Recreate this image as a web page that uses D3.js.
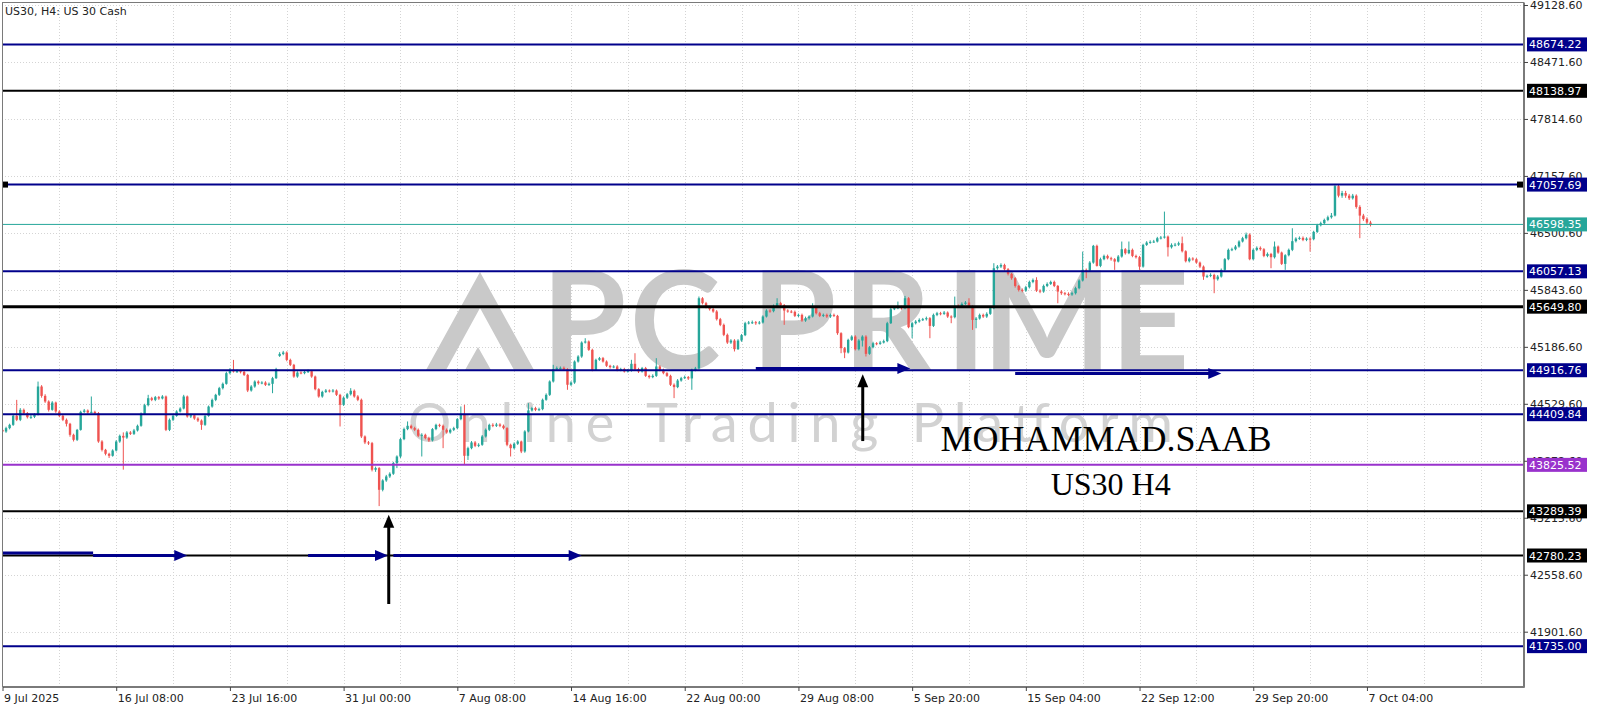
<!DOCTYPE html>
<html>
<head>
<meta charset="utf-8">
<script src="https://d3js.org/d3.v7.min.js"></script>
<style>
  html, body { margin: 0; padding: 0; background: #fff; }
  svg { display: block; font-family: "DejaVu Sans", sans-serif; }
</style>
</head>
<body>
<svg id="chart" width="1600" height="711"></svg>
<script>
const title = "US30, H4:  US 30 Cash";

// H4 candles, 9 Jul 2025 -> 7 Oct 2025
const opens = [
44229,44210,44249,44287,44391,44345,44460,44421,44375,44380,44402,44729,44621,44556,44460,44544,44441,44391,44345,44299,
44172,44114,44229,44437,44452,44429,44437,44421,44095,43999,43953,43930,43991,44095,44160,44140,44199,44183,44222,44276,
44414,44514,44594,44575,44606,44591,44614,44229,44345,44391,44441,44475,44614,44383,44398,44360,44337,44287,44391,44498,
44575,44633,44710,44760,44883,44921,44902,44906,44898,44863,44683,44729,44786,44767,44775,44748,44760,44825,45082,45105,
45121,45036,44979,44844,44890,44883,44898,44906,44844,44698,44614,44667,44683,44675,44683,44633,44518,44600,44640,44680,
44614,44576,44153,44084,44076,43769,43788,43538,43646,43692,43723,43846,43922,44122,44238,44276,44249,44230,44161,44172,
44134,44107,44238,44287,44276,44230,44199,44230,44249,44353,44414,43930,44018,44084,44045,44057,44153,44230,44287,44276,
44291,44276,44249,44057,44018,44069,44095,43980,44211,44453,44480,44460,44468,44576,44633,44787,44929,44941,44944,44929,
44749,44775,45017,45075,45236,45248,45152,44921,45037,45056,45017,44968,44952,44960,44921,44929,44902,44914,44991,44929,
44902,44941,44852,44837,44852,44960,44921,44883,44852,44749,44722,44798,44825,44837,44822,44921,44937,45747,45690,45644,
45621,45594,45505,45440,45325,45236,45259,45160,45259,45321,45459,45467,45470,45459,45467,45536,45605,45598,45659,45690,
45667,45605,45594,45590,45544,45555,45490,45517,45536,45643,45574,45544,45555,45536,45555,45544,45344,45171,45121,45267,
45305,45159,45259,45305,45106,45182,45228,45221,45236,45252,45459,45620,45632,45643,45632,45747,45413,45459,45478,45497,
45505,45517,45428,45555,45574,45567,45582,45536,45528,45659,45651,45682,45697,45651,45497,45513,45555,45536,45567,45632,
46093,46112,46131,46081,46028,45978,45889,45843,45835,45874,45935,45958,45835,45824,45889,45912,45935,45889,45824,45805,
45797,45790,45805,45863,45951,46074,46066,46158,46351,46120,46197,46235,46208,46197,46170,46228,46312,46266,46305,46235,
46220,46112,46362,46389,46397,46401,46439,46447,46458,46335,46362,46365,46381,46289,46174,46205,46197,46158,46112,45997,
46005,46016,45966,45997,46074,46197,46305,46312,46343,46401,46439,46481,46197,46305,46328,46312,46235,46258,46220,46343,
46274,46143,46243,46305,46405,46435,46443,46420,46435,46428,46512,46589,46612,46650,46681,46700,47040,46930,46960,46930,
46900,46930,46800,46700,46660,46620
];
const highs = [
44250,44265,44300,44410,44575,44480,44475,44435,44400,44420,44786,44745,44640,44570,44560,44555,44455,44405,44360,44310,
44185,44240,44450,44470,44465,44614,44450,44435,44110,44010,43965,44005,44110,44175,44200,44215,44215,44240,44290,44430,
44530,44633,44610,44620,44620,44630,44625,44360,44405,44455,44490,44633,44625,44415,44410,44375,44350,44400,44510,44590,
44645,44725,44775,44900,44940,45036,44925,44920,44910,44875,44745,44800,44800,44790,44790,44775,44840,44945,45125,45140,
45135,45050,44990,44905,44905,44915,44925,44920,44855,44710,44680,44700,44695,44700,44695,44645,44615,44655,44710,44695,
44630,44590,44165,44100,44090,43805,43800,43660,43710,43740,43860,43935,44135,44255,44326,44290,44265,44245,44190,44185,
44150,44250,44300,44300,44290,44245,44245,44265,44365,44499,44518,44035,44100,44100,44075,44170,44245,44300,44305,44310,
44305,44290,44260,44070,44085,44110,44105,44225,44537,44495,44495,44485,44590,44650,44800,44979,44960,44960,44960,44940,
44790,45030,45090,45250,45286,45260,45165,45050,45070,45070,45030,44980,44975,44975,44945,44945,44930,45037,45113,44945,
44955,44955,44865,44870,45056,44975,44935,44895,44865,44765,44815,44840,44855,44850,44935,44955,45767,45760,45705,45660,
45635,45610,45520,45455,45340,45275,45275,45275,45335,45475,45485,45490,45485,45485,45550,45620,45620,45675,45747,45705,
45680,45620,45610,45605,45570,45570,45535,45550,45689,45655,45590,45570,45570,45570,45570,45555,45355,45185,45280,45320,
45320,45275,45320,45320,45195,45245,45240,45255,45270,45475,45651,45650,45709,45660,45774,45760,45475,45495,45515,45520,
45535,45530,45570,45590,45590,45600,45595,45550,45766,45675,45700,45715,45747,45665,45530,45570,45570,45585,45650,46151,
46130,46150,46145,46095,46040,45990,45900,45860,45890,45950,45975,45989,45850,45905,45930,45950,45950,45900,45840,45820,
45815,45822,45880,45965,46285,46090,46175,46362,46365,46215,46250,46250,46225,46210,46245,46401,46325,46401,46320,46250,
46235,46375,46405,46415,46420,46455,46465,46746,46470,46380,46385,46400,46458,46300,46220,46220,46210,46170,46125,46020,
46035,46030,46015,46090,46210,46320,46330,46360,46415,46455,46504,46495,46320,46345,46345,46325,46275,46270,46401,46355,
46285,46255,46320,46554,46450,46460,46460,46450,46450,46525,46605,46630,46665,46700,46730,47065,47055,46985,46985,46950,
46950,46945,46820,46720,46680,46640
];
const lows = [
44190,44195,44235,44275,44330,44330,44405,44360,44355,44365,44395,44600,44540,44440,44450,44425,44375,44330,44268,44150,
44095,44100,44220,44425,44415,44420,44405,44080,43980,43935,43905,43920,43980,44080,43770,44125,44170,44170,44210,44265,
44400,44500,44560,44560,44575,44580,44215,44215,44330,44380,44430,44465,44370,44365,44345,44320,44229,44275,44380,44485,
44560,44620,44695,44750,44870,44890,44885,44880,44850,44665,44670,44715,44750,44755,44735,44735,44652,44815,45070,45090,
45020,44965,44830,44830,44870,44870,44885,44830,44685,44600,44600,44655,44660,44660,44620,44268,44505,44585,44625,44600,
44560,44135,44065,44055,43750,43745,43350,43520,43630,43675,43710,43788,43905,44110,44225,44235,44215,44145,43922,44120,
44090,44095,44225,44260,44018,44185,44185,44215,44235,44340,43826,43882,44005,44030,44030,44045,44140,44215,44260,44262,
44260,44235,44040,43922,44005,44055,43961,43965,44200,44440,44445,44445,44455,44565,44620,44775,44915,44925,44915,44691,
44735,44760,45005,45060,45225,45140,44905,44910,45025,45005,44955,44935,44940,44905,44905,44890,44890,44900,44915,44885,
44890,44840,44820,44825,44840,44905,44870,44840,44735,44595,44710,44785,44815,44805,44691,44905,44925,45675,45630,45605,
45580,45490,45425,45310,45220,45220,45133,45150,45245,45310,45445,45450,45440,45445,45455,45525,45580,45585,45645,45650,
45440,45580,45575,45530,45530,45475,45475,45500,45525,45560,45530,45530,45520,45520,45530,45325,45113,45056,45110,45255,
45145,45145,45190,45075,45095,45170,45205,45210,45225,45240,45450,45610,45620,45615,45620,45401,45286,45445,45465,45485,
45490,45286,45415,45540,45550,45555,45520,45459,45515,45635,45640,45670,45635,45382,45401,45500,45520,45520,45555,45620,
46075,46095,46065,46010,45960,45870,45825,45815,45820,45860,45920,45820,45805,45810,45875,45900,45875,45689,45786,45780,
45772,45775,45790,45850,45940,45978,46050,46145,46112,46105,46185,46195,46180,46074,46160,46215,46250,46255,46220,46205,
46074,46100,46350,46375,46385,46390,46425,46435,46228,46320,46345,46350,46275,46160,46160,46180,46145,46095,45959,45980,
45990,45805,45950,45985,46060,46185,46290,46300,46330,46390,46425,46185,46185,46290,46295,46220,46220,46093,46205,46260,
46130,46074,46230,46290,46390,46420,46405,46405,46285,46415,46500,46575,46600,46635,46665,46690,46910,46905,46905,46880,
46885,46780,46440,46640,46600,46575
];
const closes = [
44210,44249,44287,44391,44345,44460,44421,44375,44380,44402,44729,44621,44556,44460,44544,44441,44391,44345,44299,44172,
44114,44229,44437,44452,44429,44437,44421,44095,43999,43953,43930,43991,44095,44160,44140,44199,44183,44222,44276,44414,
44514,44594,44575,44606,44591,44614,44229,44345,44391,44441,44475,44614,44383,44398,44360,44337,44287,44391,44498,44575,
44633,44710,44760,44883,44921,44902,44906,44898,44863,44683,44729,44786,44767,44775,44748,44760,44825,44929,45105,45121,
45036,44979,44844,44890,44883,44898,44906,44844,44698,44614,44667,44683,44675,44683,44633,44518,44600,44640,44680,44614,
44576,44153,44084,44076,43769,43788,43538,43646,43692,43723,43846,43922,44122,44238,44276,44249,44230,44161,44172,44134,
44107,44238,44287,44276,44230,44199,44230,44249,44353,44414,43930,44018,44084,44045,44057,44153,44230,44287,44276,44291,
44276,44249,44057,44018,44069,44095,43980,44211,44453,44480,44460,44468,44576,44633,44787,44929,44941,44944,44929,44749,
44775,45017,45075,45236,45248,45152,44921,45037,45056,45017,44968,44952,44960,44921,44929,44902,44914,44991,44929,44902,
44941,44852,44837,44852,44960,44921,44883,44852,44749,44722,44798,44825,44837,44822,44921,44937,45747,45690,45644,45621,
45594,45505,45440,45325,45236,45259,45160,45259,45321,45459,45467,45470,45459,45467,45536,45605,45598,45659,45690,45667,
45605,45594,45590,45544,45555,45490,45517,45536,45643,45574,45544,45555,45536,45555,45544,45344,45171,45121,45267,45305,
45159,45259,45305,45106,45182,45228,45221,45236,45252,45459,45620,45632,45643,45632,45747,45413,45459,45478,45497,45505,
45517,45428,45555,45574,45567,45582,45536,45528,45659,45651,45682,45697,45651,45497,45513,45555,45536,45567,45632,46093,
46112,46131,46081,46028,45978,45889,45843,45835,45874,45935,45958,45835,45824,45889,45912,45935,45889,45824,45805,45797,
45790,45805,45863,45951,46074,46066,46158,46351,46120,46197,46235,46208,46197,46170,46228,46312,46266,46305,46235,46220,
46112,46362,46389,46397,46401,46439,46447,46458,46335,46362,46365,46381,46289,46174,46205,46197,46158,46112,45997,46005,
46016,45966,45997,46074,46197,46305,46312,46343,46401,46439,46481,46197,46305,46328,46312,46235,46258,46220,46343,46274,
46143,46243,46305,46405,46435,46443,46420,46435,46428,46512,46589,46612,46650,46681,46700,47040,46930,46960,46930,46900,
46930,46800,46700,46660,46620,46598
];

const priceTicks = [49128.60, 48471.60, 47814.60, 47157.60, 46500.60, 45843.60, 45186.60, 44529.60, 43872.60, 43215.60, 42558.60, 41901.60];
const timeTickBars = [0, 32, 64, 96, 128, 160, 192, 224, 256, 288, 320, 352, 384];
const timeTickLabels = ["9 Jul 2025", "16 Jul 08:00", "23 Jul 16:00", "31 Jul 00:00", "7 Aug 08:00", "14 Aug 16:00",
  "22 Aug 00:00", "29 Aug 08:00", "5 Sep 20:00", "15 Sep 04:00", "22 Sep 12:00", "29 Sep 20:00", "7 Oct 04:00"];

// horizontal levels drawn on the chart
const levelPrices = [48674.22, 48138.97, 47057.69, 46057.13, 45649.80, 44916.76, 44409.84, 43825.52, 43289.39, 42780.23, 41735.00];
const levelKinds = ["blue", "black", "blue", "blue", "black", "blue", "blue", "purple", "black", "black", "blue"];
const bidPrice = 46598.35;

// annotations: [fromBar, toBar, price, hasHead]
const blueArrows = [[0, 25.5, 42810, 0], [25.5, 52, 42780, 1], [86, 108.5, 42780, 1], [110, 163, 42780, 1],
  [212, 255.5, 44938, 1], [285, 343, 44879, 1]];
// [bar, fromPrice, toPrice]
const upArrows = [[108.7, 42221, 43250], [242.1, 44100, 44870]];
const notes = ["MOHAMMAD.SAAB", "US30 H4"];
const noteBars = [264, 295];
const notePrices = [43985, 43480];

const svg = d3.select("#chart");
const L = 2, T = 2, R = 1524, B = 687;

const x = d3.scaleLinear().domain([0, 428.2]).range([2.5, R]);
const y = d3.scaleLinear().domain([41263.8, 49163.2]).range([B, T]);

const kindColor = { blue: "#00008b", black: "#000000", purple: "#9932cc" };
const green = "#26a69a", red = "#ef5350";

svg.append("rect").attr("width", 1600).attr("height", 711).attr("fill", "#fff");

svg.append("defs").append("clipPath").attr("id", "plot")
  .append("rect").attr("x", L).attr("y", T).attr("width", R - L).attr("height", B - T);

// grid
const grid = svg.append("g").attr("stroke", "#d4d4d4").attr("stroke-dasharray", "1 2");
grid.selectAll("line.h").data(priceTicks).join("line")
  .attr("x1", L).attr("x2", R).attr("y1", d => Math.round(y(d)) + 0.5).attr("y2", d => Math.round(y(d)) + 0.5);
grid.selectAll("line.v").data(d3.range(16, 429, 16)).join("line")
  .attr("y1", T).attr("y2", B).attr("x1", d => Math.round(x(d)) + 0.5).attr("x2", d => Math.round(x(d)) + 0.5);

// watermark
const wm = svg.append("g").attr("clip-path", "url(#plot)");
wm.append("path").attr("fill", "#c9c9c9")
  .attr("d", "M426,370L480,272L534,370L514,370L480,308L446,370Z M465,370L478,347L491,370Z");
const wmLetters = ["P", "C", "P", "R", "I", "M", "E"];
const wmCenters = [584, 675, 794, 887, 966, 1047, 1150];
wm.selectAll("text.wm").data(wmLetters).join("text")
  .attr("x", (d, i) => wmCenters[i]).attr("y", 370)
  .attr("text-anchor", "middle").attr("font-family", "Lato, sans-serif").attr("font-weight", 700)
  .attr("font-size", 137).attr("fill", "#c9c9c9").text(d => d);
wm.append("text").attr("x", 408).attr("y", 442)
  .attr("font-family", "Lato, sans-serif").attr("font-size", 54).attr("fill", "#d2d2d2")
  .attr("textLength", 765).attr("lengthAdjust", "spacing").text("Online Trading Platform");

// candles
const idx = d3.range(closes.length);
const candles = svg.append("g").attr("clip-path", "url(#plot)");
candles.selectAll("line").data(idx).join("line")
  .attr("x1", i => x(i)).attr("x2", i => x(i))
  .attr("y1", i => y(highs[i])).attr("y2", i => y(lows[i]))
  .attr("stroke", i => closes[i] >= opens[i] ? green : red).attr("stroke-width", 1);
candles.selectAll("rect").data(idx).join("rect")
  .attr("x", i => x(i) - 1.2).attr("width", 2.4)
  .attr("y", i => y(Math.max(opens[i], closes[i])))
  .attr("height", i => Math.max(1, Math.abs(y(opens[i]) - y(closes[i]))))
  .attr("fill", i => closes[i] >= opens[i] ? green : red);

// level lines
const lv = svg.append("g");
lv.selectAll("line").data(levelPrices).join("line")
  .attr("x1", L).attr("x2", R)
  .attr("y1", d => y(d)).attr("y2", d => y(d))
  .attr("stroke", (d, i) => kindColor[levelKinds[i]])
  .attr("stroke-width", (d, i) => i === 4 ? 3 : 2);
svg.append("line").attr("x1", L).attr("x2", R).attr("y1", y(bidPrice)).attr("y2", y(bidPrice))
  .attr("stroke", green).attr("stroke-width", 1);
// selection handles on the 47057.69 line
[4, R - 5].forEach(px => svg.append("rect").attr("x", px - 2).attr("y", y(levelPrices[2]) - 3)
  .attr("width", 6).attr("height", 6).attr("fill", "#000"));

// arrows
const ann = svg.append("g");
blueArrows.forEach(([b0, b1, p, head]) => {
  const x0 = x(b0), x1 = x(b1), yy = y(p);
  ann.append("line").attr("x1", x0).attr("x2", head ? x1 - 10 : x1).attr("y1", yy).attr("y2", yy)
    .attr("stroke", "#00008b").attr("stroke-width", 3);
  if (head) ann.append("path").attr("fill", "#00008b")
    .attr("d", `M${x1},${yy}L${x1 - 13},${yy - 5.5}L${x1 - 13},${yy + 5.5}Z`);
});
upArrows.forEach(([b, p0, p1]) => {
  const xx = x(b), y0 = y(p0), y1 = y(p1);
  ann.append("line").attr("x1", xx).attr("x2", xx).attr("y1", y0).attr("y2", y1 + 10)
    .attr("stroke", "#000").attr("stroke-width", 3);
  ann.append("path").attr("fill", "#000")
    .attr("d", `M${xx},${y1}L${xx - 5.5},${y1 + 13}L${xx + 5.5},${y1 + 13}Z`);
});
ann.selectAll("text").data(notes).join("text")
  .attr("x", (d, i) => x(noteBars[i])).attr("y", (d, i) => y(notePrices[i]))
  .attr("font-family", "'Liberation Serif', 'Times New Roman', serif")
  .attr("font-size", (d, i) => i === 0 ? 36 : 32).attr("fill", "#000").text(d => d);

// frame
svg.append("rect").attr("x", L + 0.5).attr("y", T + 0.5).attr("width", R - L - 1).attr("height", B - T - 1)
  .attr("fill", "none").attr("stroke", "#7a7a7a");

// axes
const yAxis = svg.append("g").attr("transform", `translate(${R},0)`)
  .call(d3.axisRight(y).tickValues(priceTicks).tickFormat(d3.format(".2f")).tickSize(4).tickSizeOuter(0).tickPadding(2));
yAxis.select(".domain").attr("stroke", "#7a7a7a");
yAxis.selectAll(".tick line").attr("stroke", "#444");
yAxis.selectAll("text").attr("font-family", "'DejaVu Sans', sans-serif").attr("font-size", 11).attr("fill", "#222");

const xAxis = svg.append("g").attr("transform", `translate(0,${B})`)
  .call(d3.axisBottom(x).tickValues(timeTickBars).tickFormat((d, i) => timeTickLabels[i]).tickSize(4).tickSizeOuter(0));
xAxis.select(".domain").attr("stroke", "#7a7a7a");
xAxis.selectAll(".tick line").attr("stroke", "#444");
xAxis.selectAll("text").attr("font-family", "'DejaVu Sans', sans-serif").attr("font-size", 11).attr("fill", "#222")
  .attr("text-anchor", "start").attr("x", 1).attr("y", 15).attr("dy", null);

// price boxes on the right scale
const boxes = levelPrices.map((p, i) => ({ p, c: kindColor[levelKinds[i]] })).concat([{ p: bidPrice, c: green }]);
const bx = svg.append("g");
boxes.forEach(b => {
  const yy = y(b.p);
  bx.append("rect").attr("x", R + 3).attr("y", yy - 7).attr("width", 60).attr("height", 14).attr("fill", b.c);
  bx.append("text").attr("x", R + 5).attr("y", yy + 4).attr("font-size", 11).attr("fill", "#fff")
    .text(d3.format(".2f")(b.p));
});

svg.append("text").attr("x", 5).attr("y", 15).attr("font-size", 11).attr("fill", "#222").text(title);
</script>
</body>
</html>
